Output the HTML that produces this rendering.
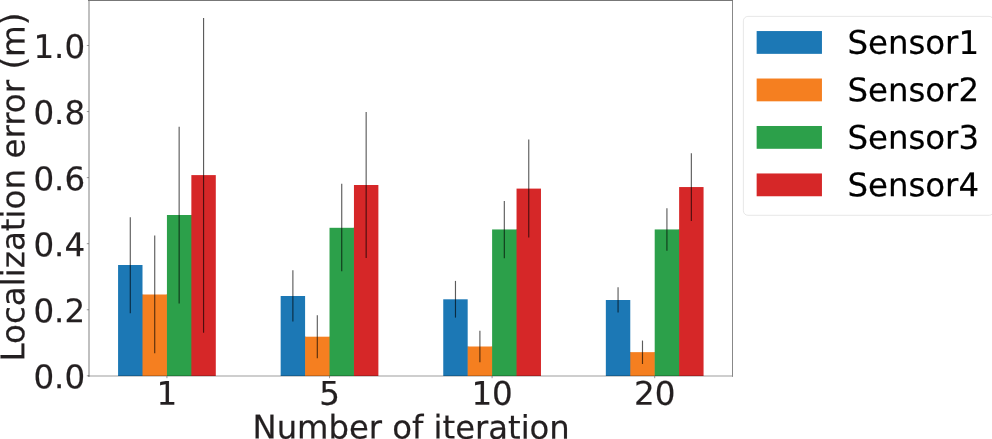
<!DOCTYPE html>
<html lang="en"><head><meta charset="utf-8"><title>Localization error</title>
<style>html,body{margin:0;padding:0;background:#fff;overflow:hidden}svg{display:block}</style></head>
<body>
<svg width="992" height="439" viewBox="0 0 992 439" font-family="'DejaVu Sans', 'Liberation Sans', sans-serif" font-size="32.5" fill="#1a1a1a">
<rect width="992" height="439" fill="#fff"/>
<rect x="118.07" y="265.00" width="24.43" height="111.00" fill="#1c78b5"/>
<rect x="142.00" y="294.50" width="1.2" height="81.50" fill="#1c78b5"/>
<rect x="142.50" y="294.50" width="24.43" height="81.50" fill="#f57f20"/>
<rect x="166.43" y="294.50" width="1.2" height="81.50" fill="#f57f20"/>
<rect x="166.93" y="215.00" width="24.43" height="161.00" fill="#2ca04a"/>
<rect x="190.86" y="215.00" width="1.2" height="161.00" fill="#2ca04a"/>
<rect x="191.36" y="175.10" width="24.43" height="200.90" fill="#d62728"/>
<rect x="280.66" y="296.00" width="24.43" height="80.00" fill="#1c78b5"/>
<rect x="304.59" y="336.70" width="1.2" height="39.30" fill="#1c78b5"/>
<rect x="305.09" y="336.70" width="24.43" height="39.30" fill="#f57f20"/>
<rect x="329.02" y="336.70" width="1.2" height="39.30" fill="#f57f20"/>
<rect x="329.52" y="227.80" width="24.43" height="148.20" fill="#2ca04a"/>
<rect x="353.45" y="227.80" width="1.2" height="148.20" fill="#2ca04a"/>
<rect x="353.95" y="185.00" width="24.43" height="191.00" fill="#d62728"/>
<rect x="443.25" y="299.30" width="24.43" height="76.70" fill="#1c78b5"/>
<rect x="467.18" y="346.50" width="1.2" height="29.50" fill="#1c78b5"/>
<rect x="467.68" y="346.50" width="24.43" height="29.50" fill="#f57f20"/>
<rect x="491.61" y="346.50" width="1.2" height="29.50" fill="#f57f20"/>
<rect x="492.11" y="229.45" width="24.43" height="146.55" fill="#2ca04a"/>
<rect x="516.04" y="229.45" width="1.2" height="146.55" fill="#2ca04a"/>
<rect x="516.54" y="188.60" width="24.43" height="187.40" fill="#d62728"/>
<rect x="605.84" y="300.00" width="24.43" height="76.00" fill="#1c78b5"/>
<rect x="629.77" y="352.15" width="1.2" height="23.85" fill="#1c78b5"/>
<rect x="630.27" y="352.15" width="24.43" height="23.85" fill="#f57f20"/>
<rect x="654.20" y="352.15" width="1.2" height="23.85" fill="#f57f20"/>
<rect x="654.70" y="229.45" width="24.43" height="146.55" fill="#2ca04a"/>
<rect x="678.63" y="229.45" width="1.2" height="146.55" fill="#2ca04a"/>
<rect x="679.13" y="187.05" width="24.43" height="188.95" fill="#d62728"/>
<line x1="130.29" x2="130.29" y1="217.20" y2="313.20" stroke="#000" stroke-opacity="0.64" stroke-width="1.15"/>
<line x1="154.72" x2="154.72" y1="235.45" y2="353.30" stroke="#000" stroke-opacity="0.64" stroke-width="1.15"/>
<line x1="179.15" x2="179.15" y1="126.70" y2="303.50" stroke="#000" stroke-opacity="0.64" stroke-width="1.15"/>
<line x1="203.57" x2="203.57" y1="17.90" y2="332.80" stroke="#000" stroke-opacity="0.64" stroke-width="1.15"/>
<line x1="292.88" x2="292.88" y1="270.30" y2="321.50" stroke="#000" stroke-opacity="0.64" stroke-width="1.15"/>
<line x1="317.31" x2="317.31" y1="315.30" y2="358.20" stroke="#000" stroke-opacity="0.64" stroke-width="1.15"/>
<line x1="341.73" x2="341.73" y1="183.80" y2="271.30" stroke="#000" stroke-opacity="0.64" stroke-width="1.15"/>
<line x1="366.16" x2="366.16" y1="111.90" y2="258.00" stroke="#000" stroke-opacity="0.64" stroke-width="1.15"/>
<line x1="455.47" x2="455.47" y1="280.90" y2="317.60" stroke="#000" stroke-opacity="0.64" stroke-width="1.15"/>
<line x1="479.90" x2="479.90" y1="330.80" y2="362.35" stroke="#000" stroke-opacity="0.64" stroke-width="1.15"/>
<line x1="504.32" x2="504.32" y1="201.05" y2="258.20" stroke="#000" stroke-opacity="0.64" stroke-width="1.15"/>
<line x1="528.75" x2="528.75" y1="139.40" y2="237.50" stroke="#000" stroke-opacity="0.64" stroke-width="1.15"/>
<line x1="618.06" x2="618.06" y1="287.15" y2="312.60" stroke="#000" stroke-opacity="0.64" stroke-width="1.15"/>
<line x1="642.49" x2="642.49" y1="340.55" y2="363.98" stroke="#000" stroke-opacity="0.64" stroke-width="1.15"/>
<line x1="666.92" x2="666.92" y1="208.15" y2="250.75" stroke="#000" stroke-opacity="0.64" stroke-width="1.15"/>
<line x1="691.35" x2="691.35" y1="153.15" y2="221.05" stroke="#000" stroke-opacity="0.64" stroke-width="1.15"/>
<line x1="89.0" x2="89.0" y1="0" y2="376.8" stroke="#bdbdbd" stroke-width="1.9"/>
<line x1="88.0" x2="733.0" y1="376.0" y2="376.0" stroke="#000" stroke-opacity="0.26" stroke-width="1.6"/>
<line x1="732.5" x2="732.5" y1="0" y2="376.8" stroke="#888" stroke-width="1"/>
<line x1="88.0" x2="733.0" y1="0.5" y2="0.5" stroke="#777" stroke-width="1"/>
<line x1="86.8" x2="89.0" y1="375.80" y2="375.80" stroke="#555" stroke-width="0.6"/>
<text transform="translate(85.10,388.35) rotate(0.04) scale(1,1.0)" text-anchor="end" fill="#231f20" stroke="#231f20" stroke-width="0.2">0.0</text>
<line x1="86.8" x2="89.0" y1="309.74" y2="309.74" stroke="#555" stroke-width="0.6"/>
<text transform="translate(85.10,322.29) rotate(0.04) scale(1,1.0)" text-anchor="end" fill="#231f20" stroke="#231f20" stroke-width="0.2">0.2</text>
<line x1="86.8" x2="89.0" y1="243.68" y2="243.68" stroke="#555" stroke-width="0.6"/>
<text transform="translate(85.10,256.23) rotate(0.04) scale(1,1.0)" text-anchor="end" fill="#231f20" stroke="#231f20" stroke-width="0.2">0.4</text>
<line x1="86.8" x2="89.0" y1="177.62" y2="177.62" stroke="#555" stroke-width="0.6"/>
<text transform="translate(85.10,190.17) rotate(0.04) scale(1,1.0)" text-anchor="end" fill="#231f20" stroke="#231f20" stroke-width="0.2">0.6</text>
<line x1="86.8" x2="89.0" y1="111.56" y2="111.56" stroke="#555" stroke-width="0.6"/>
<text transform="translate(85.10,124.11) rotate(0.04) scale(1,1.0)" text-anchor="end" fill="#231f20" stroke="#231f20" stroke-width="0.2">0.8</text>
<line x1="86.8" x2="89.0" y1="45.50" y2="45.50" stroke="#555" stroke-width="0.6"/>
<text transform="translate(85.10,58.05) rotate(0.04) scale(1,1.0)" text-anchor="end" fill="#231f20" stroke="#231f20" stroke-width="0.2">1.0</text>
<line x1="166.93" x2="166.93" y1="376.0" y2="378.2" stroke="#555" stroke-width="0.6"/>
<text transform="translate(166.93,404.70) rotate(0.04) scale(1,1.0)" text-anchor="middle" fill="#231f20" stroke="#231f20" stroke-width="0.2">1</text>
<line x1="329.52" x2="329.52" y1="376.0" y2="378.2" stroke="#555" stroke-width="0.6"/>
<text transform="translate(329.52,404.70) rotate(0.04) scale(1,1.0)" text-anchor="middle" fill="#231f20" stroke="#231f20" stroke-width="0.2">5</text>
<line x1="492.11" x2="492.11" y1="376.0" y2="378.2" stroke="#555" stroke-width="0.6"/>
<text transform="translate(492.11,404.70) rotate(0.04) scale(1,1.0)" text-anchor="middle" fill="#231f20" stroke="#231f20" stroke-width="0.2">10</text>
<line x1="654.70" x2="654.70" y1="376.0" y2="378.2" stroke="#555" stroke-width="0.6"/>
<text transform="translate(654.70,404.70) rotate(0.04) scale(1,1.0)" text-anchor="middle" fill="#231f20" stroke="#231f20" stroke-width="0.2">20</text>
<text transform="translate(411.15,438.60) rotate(0.04) scale(0.992,1.0)" text-anchor="middle" fill="#231f20" stroke="#231f20" stroke-width="0.2">Number of iteration</text>
<text transform="translate(24.40,187.00) rotate(-89.96) scale(1,1.0)" text-anchor="middle" fill="#231f20" stroke="#231f20" stroke-width="0.2">Localization error (m)</text>
<rect x="743.4" y="16.4" width="250.2" height="198.9" rx="4.5" ry="4.5" fill="#fff" stroke="#e4e4e4" stroke-width="0.9"/>
<rect x="756.65" y="31.05" width="65.3" height="22.8" fill="#1c78b5"/>
<text transform="translate(847.50,53.80) rotate(0.04) scale(0.996,1.0)" text-anchor="start" fill="#000" stroke="#000" stroke-width="0.2">Sensor1</text>
<rect x="756.65" y="78.52" width="65.3" height="22.8" fill="#f57f20"/>
<text transform="translate(847.50,101.27) rotate(0.04) scale(0.996,1.0)" text-anchor="start" fill="#000" stroke="#000" stroke-width="0.2">Sensor2</text>
<rect x="756.65" y="125.99" width="65.3" height="22.8" fill="#2ca04a"/>
<text transform="translate(847.50,148.74) rotate(0.04) scale(0.996,1.0)" text-anchor="start" fill="#000" stroke="#000" stroke-width="0.2">Sensor3</text>
<rect x="756.65" y="173.46" width="65.3" height="22.8" fill="#d62728"/>
<text transform="translate(847.50,196.21) rotate(0.04) scale(0.996,1.0)" text-anchor="start" fill="#000" stroke="#000" stroke-width="0.2">Sensor4</text>
</svg>
</body></html>
